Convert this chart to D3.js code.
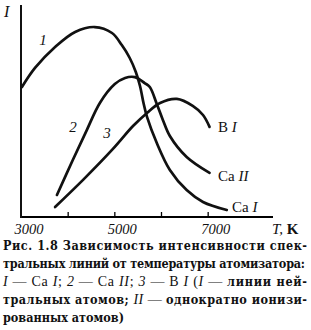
<!DOCTYPE html>
<html>
<head>
<meta charset="utf-8">
<script src="https://cdn.jsdelivr.net/npm/d3@7"></script>
<style>
  body { margin: 0; background: #fff; }
  svg { display: block; }
  text { font-family: "Liberation Serif", "Times New Roman", Tinos, serif; fill: #111; }
  .cap text { font-family: "DejaVu Serif Condensed", "DejaVu Serif", serif; }
</style>
</head>
<body>
<script>
// temperatures, K
var tCaI = [3020, 3300, 3730, 4160, 4580, 4950, 5160, 5330, 5460, 5550, 5630, 5700, 5910, 6190, 6550, 6900, 7410];
var iCaI = [61.3, 70.3, 80.2, 87.3, 89.6, 86.8, 81.1, 75.0, 68.4, 61.8, 53.3, 47.2, 34.9, 22.2, 12.7, 7.1, 3.3];

var tCaII = [3770, 4110, 4410, 4690, 5010, 5230, 5440, 5650, 5760, 5910, 6040, 6190, 6550, 7040];
var iCaII = [10.4, 26.9, 41.0, 53.8, 62.7, 65.6, 66.0, 63.2, 61.3, 53.3, 45.8, 38.2, 28.3, 20.8];

var tBI = [3730, 4330, 4970, 5400, 5700, 5980, 6340, 6680, 6900, 7040];
var iBI = [4.7, 17.5, 32.1, 42.9, 49.1, 53.8, 55.7, 52.4, 48.1, 42.5];

var xTicks = [4000, 5000, 6000, 7000];
var xTickLabels = [3000, 5000, 7000];

var w = 311, h = 330;
var margin = { left: 21, top: 5, right: 38, bottom: 113 };

var svg = d3.select("body").append("svg")
    .attr("width", w)
    .attr("height", h);

var x = d3.scaleLinear().domain([3000, 8400]).range([margin.left, w - margin.right]);
var y = d3.scaleLinear().domain([0, 100]).range([h - margin.bottom, margin.top]);

// axes
var xAxis = d3.axisBottom(x).tickValues(xTicks).tickSize(-5).tickFormat("");
var gx = svg.append("g")
    .attr("transform", "translate(0," + y(0) + ")")
    .call(xAxis);
gx.select(".domain").attr("stroke-width", 2).attr("d", "M" + x(3000) + ",0H" + x(8400));
gx.selectAll(".tick line").attr("stroke-width", 1.3);

svg.append("line")
    .attr("x1", x(3000)).attr("x2", x(3000))
    .attr("y1", y(0) + 1).attr("y2", y(100))
    .attr("stroke", "#111").attr("stroke-width", 2);

// tick labels (printed slightly right of the ticks)
svg.selectAll("text.xl")
    .data(xTickLabels)
    .enter().append("text")
    .attr("class", "xl")
    .attr("x", (d) => x(d) + 8)
    .attr("y", 233.5)
    .attr("text-anchor", "middle")
    .style("font-style", "italic")
    .style("font-size", "14.5px")
    .text((d) => d);

var tk = svg.append("text").attr("x", 272).attr("y", 233.5).style("font-size", "15px");
tk.append("tspan").style("font-style", "italic").text("T,");
tk.append("tspan").style("font-weight", "bold").text(" K");

svg.append("text").attr("x", 4).attr("y", 17)
    .style("font-style", "italic").style("font-size", "16px").text("I");

// curves
var series = [
    { t: tCaI, v: iCaI },
    { t: tCaII, v: iCaII },
    { t: tBI, v: iBI }
];
var line = d3.line()
    .x((d) => x(d[0]))
    .y((d) => y(d[1]))
    .curve(d3.curveCatmullRom.alpha(0.5));

svg.selectAll("path.curve")
    .data(series)
    .enter().append("path")
    .attr("class", "curve")
    .attr("d", (s) => line(s.t.map((t, i) => [t, s.v[i]])))
    .attr("fill", "none")
    .attr("stroke", "#111")
    .attr("stroke-width", 2.7)
    .attr("stroke-linecap", "round");

// curve numbers
function num(px, py, s) {
    svg.append("text").attr("x", px).attr("y", py)
        .attr("text-anchor", "middle")
        .style("font-style", "italic").style("font-size", "15px").text(s);
}
num(43, 45, "1");
num(73, 132, "2");
num(107, 138, "3");

// curve names
function name(px, py, a, b) {
    var t = svg.append("text").attr("x", px).attr("y", py).style("font-size", "15px");
    t.append("tspan").text(a + "\u00a0");
    t.append("tspan").style("font-style", "italic").text(b);
}
name(218, 132, "B", "I");
name(218, 181, "Ca", "II");
name(232, 212, "Ca", "I");

// caption
var cap = svg.append("g").attr("class", "cap").style("font-size", "12.5px");
var y0 = 249.5, dy = 18.2;

var l1 = cap.append("text").attr("x", 3).attr("y", y0).attr("textLength", 304).attr("lengthAdjust", "spacing");
l1.append("tspan").style("font-weight", "bold").text("Рис.  1.8  ");
l1.append("tspan").style("font-weight", "bold").text("Зависимость интенсивности спек-");

cap.append("text").attr("x", 3).attr("y", y0 + dy).attr("textLength", 302).attr("lengthAdjust", "spacing")
    .style("font-weight", "bold").text("тральных линий от температуры атомизатора:");

var l3 = cap.append("text").attr("x", 3).attr("y", y0 + 2 * dy).attr("textLength", 304).attr("lengthAdjust", "spacing");
var parts3 = [
    ["I", "italic", "normal"], [" — Ca ", "normal", "normal"], ["I", "italic", "normal"], ["; ", "normal", "normal"],
    ["2", "italic", "normal"], [" — Ca ", "normal", "normal"], ["II", "italic", "normal"], ["; ", "normal", "normal"],
    ["3", "italic", "normal"], [" — B ", "normal", "normal"], ["I", "italic", "normal"], [" (", "normal", "normal"],
    ["I", "italic", "normal"], [" — ", "normal", "normal"], ["линии ней-", "normal", "bold"]
];
parts3.forEach((p) => {
    var sp = l3.append("tspan").style("font-style", p[1]).style("font-weight", p[2]).text(p[0]);
    if (p[2] == "normal") sp.style("font-family", "'Liberation Serif', serif").style("font-size", "14px");
});

var l4 = cap.append("text").attr("x", 3).attr("y", y0 + 3 * dy).attr("textLength", 304).attr("lengthAdjust", "spacing");
l4.append("tspan").style("font-weight", "bold").text("тральных атомов; ");
l4.append("tspan").style("font-style", "italic").style("font-family", "'Liberation Serif', serif").style("font-size", "14px").text("II");
l4.append("tspan").style("font-family", "'Liberation Serif', serif").style("font-size", "14px").text(" — ");
l4.append("tspan").style("font-weight", "bold").text("однократно ионизи-");

cap.append("text").attr("x", 3).attr("y", y0 + 4 * dy)
    .style("font-weight", "bold").text("рованных атомов)");
</script>
</body>
</html>
